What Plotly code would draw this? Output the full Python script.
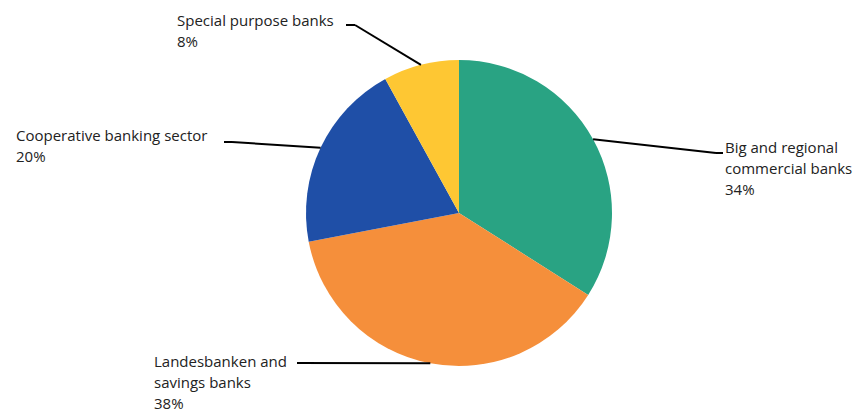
import math
import plotly.graph_objects as go

# Shares of the banking sector
categories = ["Big and regional commercial banks", "Landesbanken and savings banks",
              "Cooperative banking sector", "Special purpose banks"]
shares = [34, 38, 20, 8]
label_lines = [
    ["Big and regional", "commercial banks"],
    ["Landesbanken and", "savings banks"],
    ["Cooperative banking sector"],
    ["Special purpose banks"],
]
colors = ["#29a383", "#f58f3b", "#1f4fa7", "#fec733"]

W, H = 862, 413
CX, CY, R = 459, 213, 153  # pie centre and radius in pixels

# label placement (left x, first line centre y) and leader elbow (x, y) + horizontal stub end x
label_pos = [(724, 147), (153, 361), (15, 135), (176, 20)]
elbows = [((716, 153), 723), ((297, 363), 297), ((232, 142), 224), ((355, 25), 346)]
LINE_GAP = 21


def px(x, y):
    return x / W, 1 - y / H


fig = go.Figure(go.Pie(
    labels=categories,
    values=shares,
    sort=False,
    direction="clockwise",
    rotation=0,
    marker=dict(colors=colors, line=dict(width=0)),
    textinfo="none",
    hoverinfo="label+percent",
    showlegend=False,
    domain=dict(x=[(CX - R) / W, (CX + R) / W], y=[1 - (CY + R) / H, 1 - (CY - R) / H]),
))

total = sum(shares)
cum = 0
shapes, annotations = [], []
for i, v in enumerate(shares):
    mid = (cum + v / 2) / total * 2 * math.pi
    cum += v
    ex, ey = CX + R * math.sin(mid), CY - R * math.cos(mid)
    (bx, by), sx = elbows[i]
    for (x0, y0, x1, y1) in [(ex, ey, bx, by), (bx, by, sx, by)]:
        a, b = px(x0, y0)
        c, d = px(x1, y1)
        shapes.append(dict(type="line", xref="paper", yref="paper", x0=a, y0=b, x1=c, y1=d,
                           line=dict(color="#000000", width=2)))
    lx, ly = label_pos[i]
    lines = label_lines[i] + [f"{v}%"]
    for k, t in enumerate(lines):
        a, b = px(lx, ly + k * LINE_GAP)
        annotations.append(dict(x=a, y=b, xref="paper", yref="paper", text=t, showarrow=False,
                                xanchor="left", yanchor="middle", borderpad=0,
                                font=dict(family="Open Sans", size=15, color="#222222")))

fig.update_layout(
    width=W, height=H,
    margin=dict(l=0, r=0, t=0, b=0),
    paper_bgcolor="white",
    plot_bgcolor="white",
    shapes=shapes,
    annotations=annotations,
)

fig.write_html("out.html")
